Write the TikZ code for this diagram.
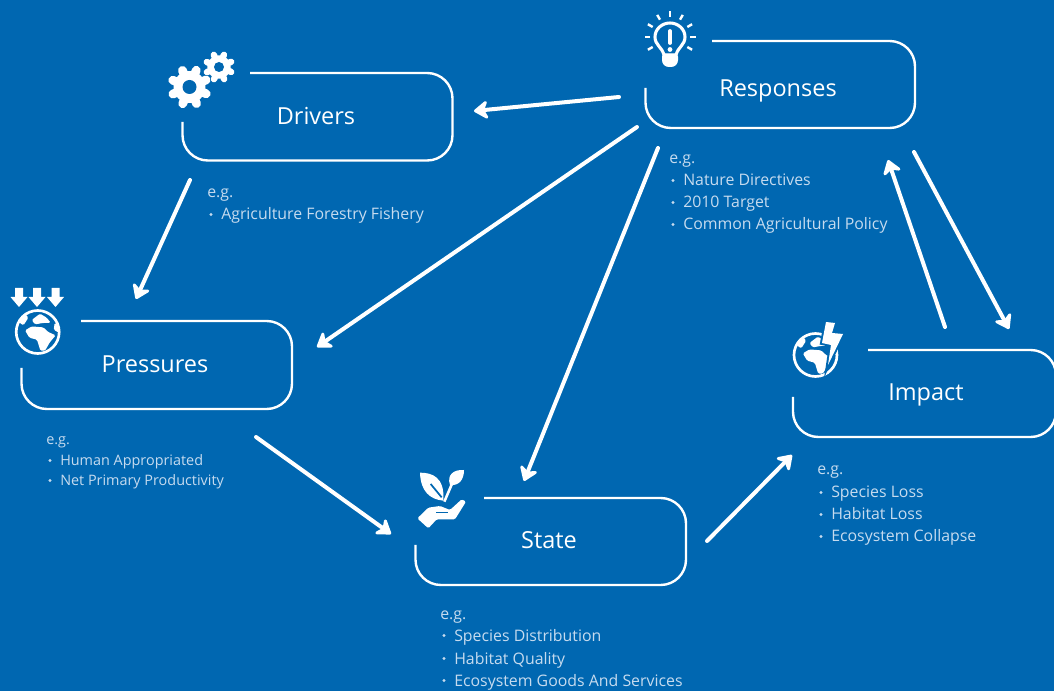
\documentclass[tikz,border=0pt]{standalone}
\usepackage{fontspec}
\setmainfont{Open Sans}
\usetikzlibrary{arrows.meta}
\definecolor{bluebg}{RGB}{0,103,177}
\definecolor{listtxt}{RGB}{198,219,239}

\newcommand{\gearicon}[4]{%
	\fill[white] (#1,#2) circle (#3*0.78);
	\foreach \a in {0,45,...,315}
		\draw[white,line width=#3*0.32pt,line cap=round] (#1,#2) -- ++(\a+22:#3*0.88);
	\fill[bluebg] (#1,#2) circle (#4);
}
\newcommand{\earthland}{%
	\begin{scope}[shift={(0,-3.3)}]
	\fill[white,rounded corners=1pt] (-12.7,1.7) -- (-6,-2.3) -- (5.7,-1.3) -- (10,3) -- (18,6.7) -- (12.3,13.3) -- (7.3,22) -- (2.7,22) -- (-0.7,11) -- (-8.3,9) -- cycle;
	\fill[white,rounded corners=1pt] (-6,-8.7) -- (2.3,-15) -- (9,-11) -- (13,-6) -- (5,-5.7) -- (-2.7,-4.3) -- cycle;
	\fill[white,rounded corners=1pt] (-19,-6.7) -- (-12.7,-15) -- (-9.3,-11) -- (-14.3,-3.3) -- cycle;
	\fill[white,rounded corners=1pt] (17,-6) -- (21,-3) -- (21,4) -- (16,1) -- cycle;
	\end{scope}
}

\begin{document}
\begin{tikzpicture}[x=0.75pt,y=-0.75pt,
	box line/.style={draw=white,line width=1.8pt,rounded corners=19pt},
	box label/.style={text=white,font=\fontsize{17.6}{22}\selectfont,anchor=base},
	list item/.style={text=listtxt,font=\fontsize{11.9}{14}\selectfont,anchor=base west,inner sep=0pt},
	list small/.style={list item,font=\fontsize{10.8}{14}\selectfont},
	flow/.style={draw=white,line width=3pt,line cap=round,-{Stealth[length=12.5pt,width=17pt,inset=4pt,round=false]}}]
	\fill[bluebg] (0,0) rectangle (1054,691);
	\useasboundingbox (0,0) rectangle (1054,691);
	%boxes
	\draw[box line] (250,73) -| (452.5,160.5) -| (182.5,122);
	\draw[box line] (712,41) -| (915,128) -| (645.5,88);
	\draw[box line] (81,321) -| (292,409) -| (21.5,368);
	\draw[box line] (484,498) -| (686,585) -| (415.5,545);
	\draw[box line] (868,350) -| (1056,437) -| (793,397);
	%box labels
	\node[box label] (drivers) at (316,125) {Drivers};
	\node[box label] (responses) at (778,97) {Responses};
	\node[box label] (pressures) at (155,373) {Pressures};
	\node[box label] (state) at (549,549) {State};
	\node[box label] (impact) at (926,401) {Impact};
	%lists
	\node[list item] (drv0) at (207,198) {e.g.};
	\node[list item] (drv1) at (221,220) {Agriculture Forestry Fishery};
	\node[list item] (rsp0) at (669,164) {e.g.};
	\node[list item] (rsp1) at (683,186) {Nature Directives};
	\node[list item] (rsp2) at (683,208) {2010 Target};
	\node[list item] (rsp3) at (683,230) {Common Agricultural Policy};
	\node[list small] (prs0) at (46,445) {e.g.};
	\node[list small] (prs1) at (60,466) {Human Appropriated};
	\node[list small] (prs2) at (60,486) {Net Primary Productivity};
	\node[list item] (stt0) at (440,619) {e.g.};
	\node[list item] (stt1) at (454,641) {Species Distribution};
	\node[list item] (stt2) at (454,664) {Habitat Quality};
	\node[list item] (stt3) at (454,686) {Ecosystem Goods And Services};
	\node[list item] (imp0) at (817,475) {e.g.};
	\node[list item] (imp1) at (831,498) {Species Loss};
	\node[list item] (imp2) at (831,520) {Habitat Loss};
	\node[list item] (imp3) at (831,542) {Ecosystem Collapse};
	\foreach \b in {drv1,rsp1,rsp2,rsp3,prs1,prs2,stt1,stt2,stt3,imp1,imp2,imp3}
		\fill[listtxt] (\b.base west) ++(-10,-5.5) circle (1.7);
	%connector ends
	\coordinate (a1) at (619,97);   \coordinate (a2) at (474,111);
	\coordinate (b1) at (190,180);  \coordinate (b2) at (136,299);
	\coordinate (c1) at (637,127);  \coordinate (c2) at (317,347);
	\coordinate (d1) at (658,148);  \coordinate (d2) at (524,481);
	\coordinate (e1) at (256,437);  \coordinate (e2) at (391,534);
	\coordinate (f1) at (707,541);  \coordinate (f2) at (792,455);
	\coordinate (g1) at (945,327);  \coordinate (g2) at (888,160);
	\coordinate (h1) at (914,152);  \coordinate (h2) at (1009,329);
	%edges
	\foreach \s/\t in {a1/a2,b1/b2,c1/c2,d1/d2,e1/e2,f1/f2,g1/g2,h1/h2}
		\draw[flow] (\s) -- (\t);
	%gears
	\gearicon{189.5}{87}{20.5}{7}
	\gearicon{219}{67}{15}{5}
	%bulb
	\draw[white,line width=2.3pt] (664,55) .. controls (662,47) and (655,45) .. (655,37) .. controls (655,29) and (662,23) .. (670,23) .. controls (678,23) and (685,29) .. (685,37) .. controls (685,45) and (678,47) .. (676,55) -- cycle;
	\fill[white,rounded corners=2pt] (662,54) -- (678,54) -- (678,63) -- (674,67) -- (666,67) -- (662,63) -- cycle;
	\draw[white,line width=2.8pt,line cap=round] (670,31) -- (670,43);
	\fill[white] (670,49.5) circle (2.4);
	\foreach \a in {0,30,60,90,120,150,180,210,-30}
		\draw[white,line width=1.8pt] (670,37) ++(-\a:20) -- ++(-\a:5.5);
	%pressure arrows and globe
	\foreach \x in {19,37,55.5}
		\fill[white] (\x-4,288) -- (\x+4,288) -- (\x+4,297) -- (\x+8.5,297) -- (\x,307) -- (\x-8.5,297) -- (\x-4,297) -- cycle;
	\begin{scope}[shift={(37.7,332)}]
		\draw[white,line width=2pt] (0,0) circle (21.5);
		\earthland
	\end{scope}
	%plant and hand
	\begin{scope}[shift={(400,460)},x=0.25pt,y=-0.25pt]
		\fill[white] (60,38) .. controls (95,38) and (135,50) .. (130,122) .. controls (90,118) and (62,95) .. (60,38) -- cycle;
		\draw[bluebg,line width=1.3pt] (92,72) -- (125,112);
		\fill[white] (192,30) .. controls (160,28) and (140,45) .. (150,75) .. controls (178,78) and (192,58) .. (192,30) -- cycle;
		\draw[white,line width=1.9pt] (133,125) -- (160,62);
		\fill[white,rounded corners=1pt] (52,175) -- (85,143) -- (120,138) -- (150,150) -- (185,118) -- (198,125) -- (165,178) -- (110,178) -- (85,205) -- cycle;
		\draw[bluebg,line width=1.1pt] (108,158) -- (145,158);
	\end{scope}
	%impact globe and lightning
	\begin{scope}[shift={(815.5,355)}]
		\draw[white,line width=2pt] (0,0) circle (21.5);
		\earthland
	\end{scope}
	\draw[bluebg,line width=3pt] (826,322) -- (835,323) -- (832,333) -- (843,334) -- (828,365) -- (831,345) -- (822,343) -- cycle;
	\fill[white] (826,322) -- (835,323) -- (832,333) -- (843,334) -- (828,365) -- (831,345) -- (822,343) -- cycle;
\end{tikzpicture}
\end{document}
